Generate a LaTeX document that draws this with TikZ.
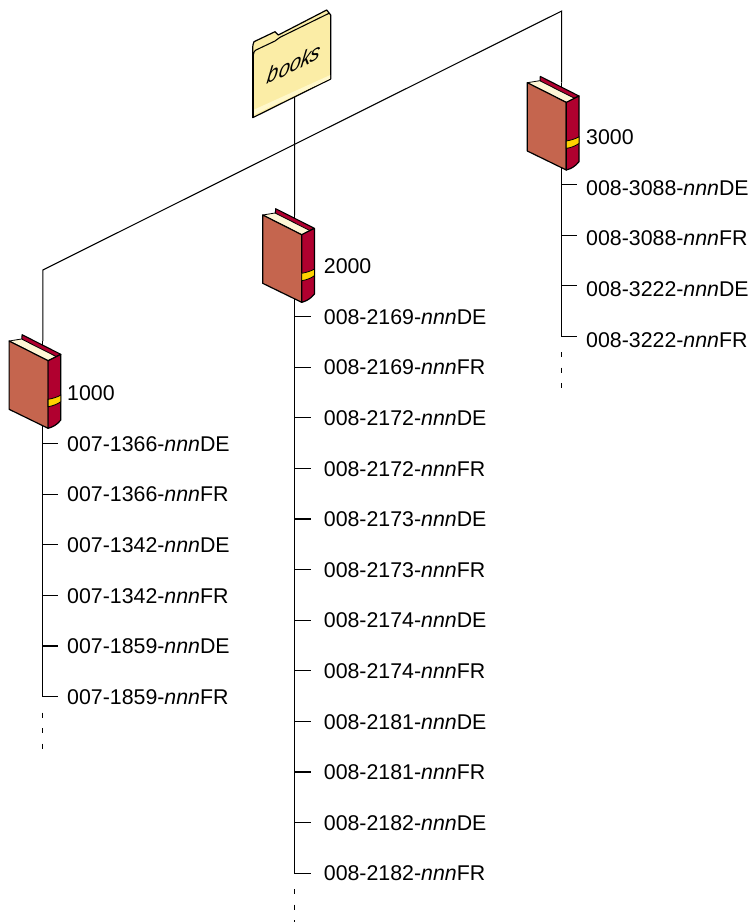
\documentclass[tikz,border=0pt]{standalone}
\usepackage{fontspec}
\setmainfont{Liberation Sans}
\usetikzlibrary{positioning, calc, backgrounds}
\definecolor{coverred}{HTML}{C5654E}
\definecolor{spinered}{HTML}{B0002F}
\definecolor{bandyellow}{HTML}{FFD200}
\definecolor{pagecream}{HTML}{FFF7D6}
\definecolor{folderyellow}{HTML}{FBEDA6}
\definecolor{folderlight}{HTML}{FFF8CC}
\newcommand{\nnn}{\textit{nnn}}
\tikzset{
  partlabel/.style={inner xsep=#1, inner ysep=0pt, outer sep=0pt, text height=11.5pt, text depth=0pt, font=\fontsize{16}{18}\selectfont},
  partlabel/.default=6.7pt,
  tree/.style={line width=0.8pt},
  dots/.style={tree, dash pattern=on 3.75pt off 7.9pt},
  pics/bookpic/.style={code={
    \draw[fill=spinered, line width=0.8pt, line join=round] (-20.7,-6.3) -- (18,13.3) -- (5.3,19.7) -- (-21,-2) -- cycle;
    \draw[fill=pagecream, line width=0.6pt, line join=round] (-33.7,0) -- (-21.3,-2) -- (13.7,15.7) -- (5.3,19.7) -- cycle;
    \draw[fill=coverred, line width=0.9pt, line join=round] (-33.7,0) -- (5.3,19.7) -- (5.3,87.3) -- (-33.7,68.3) -- cycle;
    \draw[fill=spinered, line width=0.9pt, line join=round] (5.3,19.7) -- (18,13.3) -- (18,79) .. controls (14,84) and (10,86) .. (5.3,87.3) -- cycle;
    \draw[fill=bandyellow, line width=0.6pt] (5.3,58.3) .. controls (10,57.5) and (15,56) .. (18,54) -- (18,60.7) .. controls (15,63) and (10,65) .. (5.3,65.7) -- cycle;
  }}
}
\begin{document}
\begin{tikzpicture}[x=0.75pt, y=-0.75pt, node distance=26.45pt and 0pt]
\useasboundingbox (0,0) rectangle (753,922);
\coordinate (bookA) at (42.8,341);
\coordinate (bookB) at (294.7,215);
\coordinate (bookC) at (561.7,82.7);
\coordinate (bendA) at (42.8,270);
\coordinate (bendC) at (561.7,11);

% Folder
\draw[fill=folderyellow, line width=0.9pt, line join=round] (252.7,117.7) -- (252.7,50) .. controls (252.7,46) and (253,43) .. (254,41.7) -- (275,31.7) -- (278.3,35) -- (326.7,10) -- (330.7,15) -- (330.7,79) -- cycle;
\fill[folderlight] (253.2,110) -- (330.2,75) -- (330.2,78.6) -- (253.2,115) -- cycle;
\draw[line width=0.8pt] (253.3,55) .. controls (253.5,52) and (254.5,51) .. (256,50) -- (275,41) .. controls (278,39.5) and (278,38.5) .. (280,37.3) -- (329,13.3);
\draw[line width=1.6pt] (252.9,117.2) -- (252.9,52);
\begin{scope}[shift={(294.7,63.3)}]
\node (books) [font=\fontsize{17.5}{20}\selectfont\itshape, cm={0.85,0.42,0.15,1,(0,0)}, transform shape, inner sep=0pt] at (0,0) {books};
\end{scope}

% Books
\pic at (bookA) {bookpic};
\pic at ($(bookB)+(1.7,0)$) {bookpic};
\pic at ($(bookC)+(-0.7,0)$) {bookpic};

% Labels
\node (numA) [partlabel, anchor=west] at ($(bookA)+(15.5,52)$) {1000};
\node (partA1) [partlabel, below right=of numA.south west] {007-1366-\nnn DE};
\node (partA2) [partlabel, below right=of partA1.south west] {007-1366-\nnn FR};
\node (partA3) [partlabel, below right=of partA2.south west] {007-1342-\nnn DE};
\node (partA4) [partlabel, below right=of partA3.south west] {007-1342-\nnn FR};
\node (partA5) [partlabel, below right=of partA4.south west] {007-1859-\nnn DE};
\node (partA6) [partlabel, below right=of partA5.south west] {007-1859-\nnn FR};

\node (numB) [partlabel=9.9pt, anchor=west] at ($(bookB)+(16,51)$) {2000};
\node (partB1) [partlabel=9.9pt, below right=of numB.south west] {008-2169-\nnn DE};
\node (partB2) [partlabel=9.9pt, below right=of partB1.south west] {008-2169-\nnn FR};
\node (partB3) [partlabel=9.9pt, below right=of partB2.south west] {008-2172-\nnn DE};
\node (partB4) [partlabel=9.9pt, below right=of partB3.south west] {008-2172-\nnn FR};
\node (partB5) [partlabel=9.9pt, below right=of partB4.south west] {008-2173-\nnn DE};
\node (partB6) [partlabel=9.9pt, below right=of partB5.south west] {008-2173-\nnn FR};
\node (partB7) [partlabel=9.9pt, below right=of partB6.south west] {008-2174-\nnn DE};
\node (partB8) [partlabel=9.9pt, below right=of partB7.south west] {008-2174-\nnn FR};
\node (partB9) [partlabel=9.9pt, below right=of partB8.south west] {008-2181-\nnn DE};
\node (partB10) [partlabel=9.9pt, below right=of partB9.south west] {008-2181-\nnn FR};
\node (partB11) [partlabel=9.9pt, below right=of partB10.south west] {008-2182-\nnn DE};
\node (partB12) [partlabel=9.9pt, below right=of partB11.south west] {008-2182-\nnn FR};

\node (numC) [partlabel, anchor=west] at ($(bookC)+(15.6,54.3)$) {3000};
\node (partC1) [partlabel, below right=of numC.south west] {008-3088-\nnn DE};
\node (partC2) [partlabel, below right=of partC1.south west] {008-3088-\nnn FR};
\node (partC3) [partlabel, below right=of partC2.south west] {008-3222-\nnn DE};
\node (partC4) [partlabel, below right=of partC3.south west] {008-3222-\nnn FR};

\coordinate (dotsA) at ($(partA6.west -| bookA)+(0,16)$);
\coordinate (dotsB) at ($(partB12.west -| bookB)+(0,16)$);
\coordinate (dotsC) at ($(partC4.west -| bookC)+(0,12.6)$);

% Connectors
\begin{scope}[on background layer]
\draw[tree] (bookA) -- (bendA) -- (bendC) -- (bookC);
\draw[tree] (books) -- (bookB);
\draw[tree] (bookA) |- (partA6.west);
\draw[tree] (bookB) |- (partB12.west);
\draw[tree] (bookC) |- ([yshift=2.25pt]partC4.west);
\foreach \part in {A1,A2,A3,A4,A5}
  \draw[tree] (part\part.west -| bookA) -- (part\part.west);
\foreach \part in {B1,B2,B3,B4,B5,B6,B7,B8,B9,B10,B11}
  \draw[tree] (part\part.west -| bookB) -- (part\part.west);
\foreach \part in {C1,C2,C3}
  \draw[tree] ([yshift=2.25pt]part\part.west -| bookC) -- ([yshift=2.25pt]part\part.west);
\draw[dots] (dotsA) -- ++(0,36);
\draw[dots] (dotsB) -- ++(0,36);
\draw[dots] (dotsC) -- ++(0,36);
\end{scope}
\end{tikzpicture}
\end{document}
